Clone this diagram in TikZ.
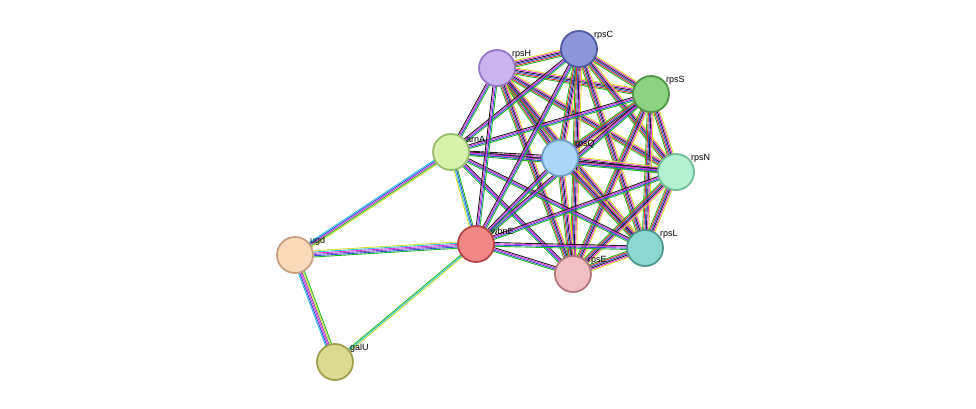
\documentclass[tikz,border=0pt]{standalone}
\usepackage{fontspec}
\setmainfont{Liberation Sans}
\usetikzlibrary{calc,backgrounds}
\definecolor{eg}{HTML}{22B822}
\definecolor{ey}{HTML}{D8E030}
\definecolor{eb}{HTML}{3050E0}
\definecolor{em}{HTML}{E030E0}
\definecolor{ec}{HTML}{30C0E0}
\definecolor{ep}{HTML}{8050C0}
\definecolor{ek}{HTML}{202020}
\definecolor{er}{HTML}{E03030}
\tikzset{prot/.style={circle,draw,line width=1.8pt,minimum size=36pt,inner sep=0pt},
 lab/.style={font=\fontsize{9}{10}\selectfont,anchor=south west,inner sep=1pt},
 ln/.style={line width=0.9pt}}
\newcommand{\edg}[4]{% a b n colors
 \foreach \cc [count=\i] in {#4}{
  \pgfmathsetmacro\o{(\i-(#3+1)/2)*1.25}
  \draw[ln,\cc] ($(#1.center)!\o pt!90:(#2.center)$) -- ($(#2.center)!\o pt!-90:(#1.center)$);}}
\begin{document}
\begin{tikzpicture}[x=1pt,y=-1pt]
\useasboundingbox (0,0) rectangle (976,408);
\node[prot,fill={rgb,255:red,201;green,180;blue,240},draw={rgb,255:red,150;green,120;blue,200}] (rpsH) at (497,68) {};
\node[prot,fill={rgb,255:red,140;green,150;blue,216},draw={rgb,255:red,80;green,90;blue,160}] (rpsC) at (579,49) {};
\node[prot,fill={rgb,255:red,140;green,210;blue,130},draw={rgb,255:red,80;green,150;blue,70}] (rpsS) at (651,94) {};
\node[prot,fill={rgb,255:red,215;green,240;blue,170},draw={rgb,255:red,150;green,190;blue,110}] (arnA) at (451,152) {};
\node[prot,fill={rgb,255:red,170;green,215;blue,248},draw={rgb,255:red,110;green,160;blue,200}] (rpsQ) at (560,158) {};
\node[prot,fill={rgb,255:red,180;green,240;blue,210},draw={rgb,255:red,110;green,190;blue,150}] (rpsN) at (676,172) {};
\node[prot,fill={rgb,255:red,240;green,136;blue,136},draw={rgb,255:red,180;green,70;blue,70}] (wbnE) at (476,244) {};
\node[prot,fill={rgb,255:red,140;green,216;blue,208},draw={rgb,255:red,80;green,150;blue,140}] (rpsL) at (645,248) {};
\node[prot,fill={rgb,255:red,240;green,190;blue,195},draw={rgb,255:red,180;green,120;blue,125}] (rpsE) at (573,274) {};
\node[prot,fill={rgb,255:red,250;green,218;blue,186},draw={rgb,255:red,200;green,160;blue,130}] (ugd) at (295,255) {};
\node[prot,fill={rgb,255:red,218;green,218;blue,145},draw={rgb,255:red,160;green,160;blue,80}] (galU) at (335,362) {};
\foreach \n/\t in {rpsH/rpsH,rpsC/rpsC,rpsS/rpsS,arnA/arnA,rpsQ/rpsQ,rpsN/rpsN,wbnE/wbnE,rpsL/rpsL,rpsE/rpsE,ugd/ugd,galU/galU}
  \node[lab] at ($(\n.center)+(14,-8)$) {\t};
\begin{pgfonlayer}{background}
\foreach \a/\b in {rpsH/rpsC,rpsH/rpsS,rpsH/rpsQ,rpsH/rpsN,rpsH/rpsL,rpsH/rpsE,rpsC/rpsS,rpsC/rpsQ,rpsC/rpsN,rpsC/rpsL,rpsC/rpsE,rpsS/rpsQ,rpsS/rpsN,rpsS/rpsL,rpsS/rpsE,rpsQ/rpsN,rpsQ/rpsL,rpsQ/rpsE,rpsN/rpsL,rpsN/rpsE,rpsL/rpsE}
  {\edg{\a}{\b}{6}{eg,er,eb,ek,em,ey}}
\foreach \a/\b in {arnA/rpsH,arnA/rpsC,arnA/rpsS,arnA/rpsQ,arnA/rpsN,arnA/rpsL,arnA/rpsE,wbnE/rpsH,wbnE/rpsC,wbnE/rpsS,wbnE/rpsQ,wbnE/rpsN,wbnE/rpsL,wbnE/rpsE}
  {\edg{\a}{\b}{4}{eg,eb,em,ek}}
\edg{arnA}{wbnE}{4}{ey,ec,eb,eg}
\edg{ugd}{arnA}{5}{ey,eg,em,eb,ec}
\edg{ugd}{wbnE}{6}{eg,eb,ep,em,ec,ey}
\edg{ugd}{galU}{6}{ec,eb,em,ep,ey,eg}
\edg{wbnE}{galU}{3}{eg,ec,ey}
\end{pgfonlayer}
\end{tikzpicture}
\end{document}
